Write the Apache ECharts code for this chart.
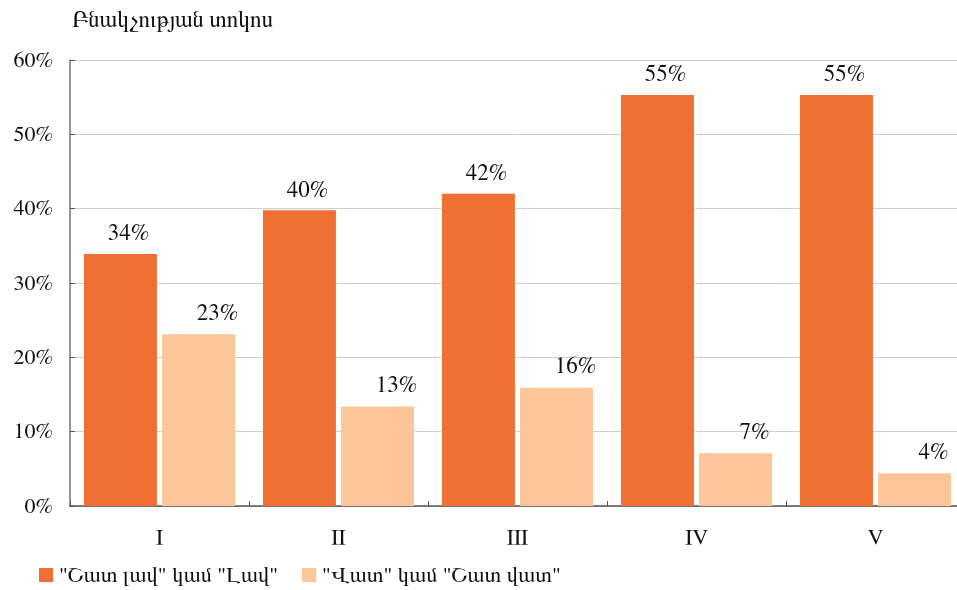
<!DOCTYPE html>
<html><head><meta charset="utf-8">
<script src="https://cdn.jsdelivr.net/npm/echarts@6/dist/echarts.min.js"></script>
<style>html,body{margin:0;padding:0;background:#fff;overflow:hidden}#c{width:965px;height:590px}</style>
</head><body><div id="c"></div>
<script>
const categories = ['I', 'II', 'III', 'IV', 'V'];
const seriesGoodName = '"Շատ լավ" կամ "Լավ"';
const seriesBadName = '"Վատ" կամ "Շատ վատ"';
const goodValues = [33.9, 39.8, 42.0, 55.3, 55.3];
const badValues = [23.1, 13.4, 15.9, 7.1, 4.4];
const yTicks = [0, 10, 20, 30, 40, 50, 60];
const titleText = 'Բնակչության տոկոս';

const FONT = 'FreeSerif, serif';
const chart = echarts.init(document.getElementById('c'));
const mkLabel = (dx, dist) => ({
  show: true, position: 'top', distance: dist, offset: [dx, 0],
  fontFamily: FONT, fontSize: 23, color: '#111',
  formatter: p => Math.round(p.value) + '%'
});
chart.setOption({
  animation: false,
  title: { text: titleText, left: 67, top: 4, textStyle: { fontFamily: FONT, fontSize: 23, fontWeight: 'normal', color: '#111' } },
  legend: {
    left: 39, top: 564, padding: 0, itemWidth: 14, itemHeight: 14, itemGap: 24,
    icon: 'rect',
    textStyle: { fontFamily: FONT, fontSize: 22, color: '#111', padding: [0, 0, 0, 1] },
    data: [seriesGoodName, seriesBadName]
  },
  grid: { left: 70, right: 0, top: 60, bottom: 84, containLabel: false },
  xAxis: {
    type: 'category', data: categories,
    axisLine: { lineStyle: { color: '#555', width: 1.5 } },
    axisTick: { show: true, inside: true, length: 5, lineStyle: { color: '#555' } },
    axisLabel: { fontFamily: FONT, fontSize: 22, color: '#111', margin: 20 }
  },
  yAxis: {
    type: 'value', min: yTicks[0], max: yTicks[yTicks.length - 1], interval: 10,
    axisLine: { show: true, lineStyle: { color: '#777', width: 1.5 } },
    axisTick: { show: true, inside: true, length: 5, lineStyle: { color: '#555' } },
    splitLine: { lineStyle: { color: '#cfcfcf', width: 1 } },
    axisLabel: { fontFamily: FONT, fontSize: 22, color: '#111', margin: 17, formatter: v => v + '%' }
  },
  series: [
    { name: seriesGoodName, type: 'bar', data: goodValues, barWidth: 73, barGap: '7%',
      itemStyle: { color: '#F07034' }, label: mkLabel(8, 9) },
    { name: seriesBadName, type: 'bar', data: badValues, barWidth: 73,
      itemStyle: { color: '#FCC699' }, label: mkLabel(19, 10) }
  ]
});
</script></body></html>
